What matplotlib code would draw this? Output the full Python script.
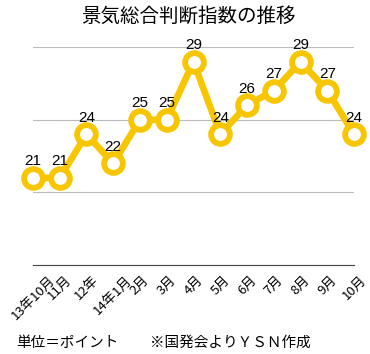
import matplotlib.pyplot as plt

plt.rcParams['font.family'] = ['Noto Sans CJK JP', 'DejaVu Sans']

# データ
months = ['13年10月', '11月', '12年', '14年1月', '2月', '3月', '4月',
          '5月', '6月', '7月', '8月', '9月', '10月']
values = [21, 21, 24, 22, 25, 25, 29, 24, 26, 27, 29, 27, 24]

gold = '#F7C600'

fig = plt.figure(figsize=(3.7, 3.54), dpi=100)
ax = fig.add_axes([0.089, 0.251, 0.868, 0.616])

x = list(range(len(values)))
ax.plot(x, values, color=gold, linewidth=4.8, marker='o', markersize=13.5,
        markerfacecolor='white', markeredgecolor=gold, markeredgewidth=4.2,
        zorder=3, clip_on=False)

for xi, v in zip(x, values):
    ax.annotate(str(v), (xi, v), xytext=(0, 7), textcoords='offset points',
                ha='center', va='bottom', fontsize=11, family=['Liberation Sans'])

ax.set_xlim(0, len(values) - 1)
ax.set_ylim(15, 30)
ax.set_yticks([15, 20, 25, 30])
ax.yaxis.grid(True, color='#bbbbbb', linewidth=0.8)
ax.set_axisbelow(True)
ax.tick_params(axis='y', left=False, labelleft=False)
ax.tick_params(axis='x', length=0, pad=6)
ax.set_xticks(x)
ax.set_xticklabels(months, rotation=45, ha='center', va='top', fontsize=9.5)
for s in ['top', 'left', 'right']:
    ax.spines[s].set_visible(False)
ax.spines['bottom'].set_color('#444444')
ax.spines['bottom'].set_linewidth(0.8)

fig.text(0.51, 0.955, '景気総合判断指数の推移', ha='center', va='center', fontsize=14)
fig.text(0.045, 0.032, '単位＝ポイント', ha='left', va='center', fontsize=10.5)
fig.text(0.405, 0.032, '※国発会よりＹＳＮ作成', ha='left', va='center', fontsize=10.5)

fig.savefig('out.png', dpi=100)
